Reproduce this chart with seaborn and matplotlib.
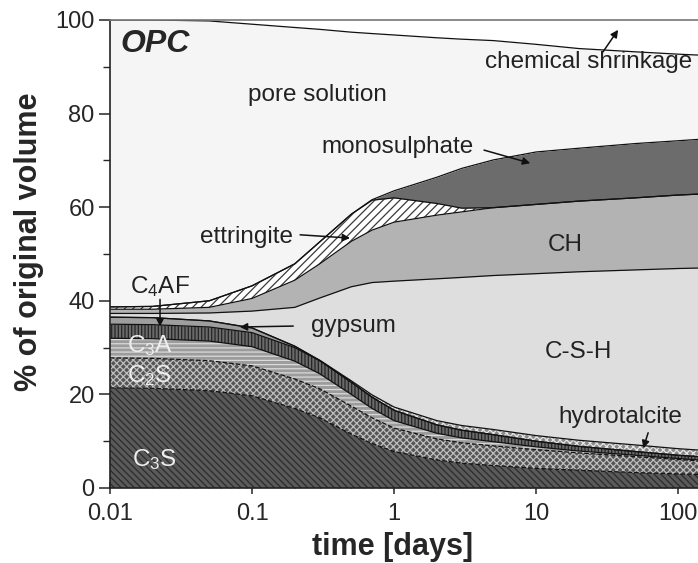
import numpy as np
import matplotlib
matplotlib.use("Agg")
import matplotlib.pyplot as plt
from matplotlib.ticker import FixedLocator, FixedFormatter, NullFormatter, LogLocator
import seaborn as sns

# ---- data (volume % of each phase vs. time) ----
time_days = [0.01, 0.02, 0.05, 0.1, 0.2, 0.3, 0.5, 0.7, 1, 2, 3, 5, 10, 20, 50, 100, 140]
c3s = [21.4, 21.3, 20.8, 19.7, 17.0, 15.0, 11.5, 9.5, 7.8, 6.0, 5.3, 4.8, 4.2, 3.8, 3.3, 3.0, 2.9]
c2s = [6.4, 6.4, 6.4, 6.4, 6.3, 6.2, 6.0, 5.5, 5.0, 4.5, 4.35, 4.2, 4.0, 3.7, 3.4, 3.1, 2.9]
c3a = [4.2, 4.2, 4.2, 4.1, 3.8, 3.2, 2.5, 2.0, 1.6, 1.2, 1.05, 0.9, 0.6, 0.4, 0.3, 0.2, 0.2]
c4af = [3.0, 3.0, 3.0, 3.0, 2.9, 2.8, 2.6, 2.4, 2.2, 1.8, 1.65, 1.5, 1.2, 1.0, 0.8, 0.7, 0.7]
gypsum = [1.5, 1.5, 1.3, 1.0, 0.3, 0, 0, 0, 0, 0, 0, 0, 0, 0, 0, 0, 0]
hydrotalcite = [0, 0, 0, 0, 0, 0.1, 0.3, 0.5, 0.7, 0.9, 1.0, 1.1, 1.2, 1.3, 1.4, 1.4, 1.4]
csh = [0.8, 0.9, 1.7, 3.6, 8.3, 13.3, 20.1, 24.0, 26.9, 30.3, 31.65, 32.9, 34.6, 36.0, 37.4, 38.5, 38.9]
ch = [0.9, 0.9, 1.2, 2.7, 5.8, 7.3, 9.7, 11.2, 12.6, 13.6, 14.0, 14.5, 14.8, 15.1, 15.4, 15.7, 15.8]
ettringite = [0.5, 0.6, 1.4, 2.7, 3.5, 4.7, 5.8, 6.4, 5.2, 2.5, 0.8, 0, 0, 0, 0, 0, 0]
monosulphate = [0, 0, 0, 0, 0, 0, 0, 0.1, 1.5, 5.6, 8.5, 10.2, 11.2, 11.3, 11.6, 11.6, 11.7]
pore_solution = [61.3, 61.2, 59.8, 55.9, 50.5, 45.4, 38.9, 35.5, 33.3, 29.8, 27.6, 25.5, 23.0, 21.3, 19.6, 18.5, 18.0]
shrinkage = [0, 0, 0.2, 0.9, 1.6, 2.0, 2.6, 2.9, 3.2, 3.8, 4.1, 4.4, 5.2, 6.1, 6.8, 7.3, 7.5]

x_ticks = [0.01, 0.1, 1, 10, 100]
x_tick_labels = ["0.01", "0.1", "1", "10", "100"]
y_ticks = [0, 20, 40, 60, 80, 100]

# ---- style ----
sns.set_style("ticks")
plt.rcParams['font.family'] = ['Liberation Sans', 'DejaVu Sans']
plt.rcParams['mathtext.fontset'] = 'custom'
plt.rcParams['mathtext.rm'] = 'Liberation Sans'
plt.rcParams['mathtext.it'] = 'Liberation Sans:italic'
plt.rcParams['mathtext.bf'] = 'Liberation Sans:bold'
plt.rcParams['hatch.linewidth'] = 0.9

fig = plt.figure(figsize=(6.98, 5.63), dpi=100)
ax = fig.add_axes([110 / 698, 1 - 488 / 563, 1 - 110 / 698, (488 - 20) / 563])
ax.set_xscale('log')

t = np.array(time_days, dtype=float)
layers = [c3s, c2s, c3a, c4af, gypsum, hydrotalcite, csh, ch, ettringite, monosulphate,
          pore_solution, shrinkage]
# (face colour, hatch colour, hatch)
styles = [
    ('#5a5a5a', '#2c2c2c', '\\\\\\\\\\'),
    ('#555555', '#bdbdbd', 'xxxxx'),
    ('#9c9c9c', '#dadada', '----'),
    ('#6a6a6a', '#262626', '|||||'),
    ('#9e9e9e', None, None),
    ('#8a8a8a', '#e6e6e6', 'xxxxx'),
    ('#dedede', None, None),
    ('#b3b3b3', None, None),
    ('#ffffff', '#3a3a3a', '////'),
    ('#6c6c6c', None, None),
    ('#f5f5f5', None, None),
    ('#ffffff', None, None),
]

cum = np.zeros_like(t)
tops = []
for vals, (fc, hc, h) in zip(layers, styles):
    lower = cum.copy()
    cum = cum + np.array(vals, dtype=float)
    if h:
        ax.fill_between(t, lower, cum, facecolor=fc, edgecolor=hc, hatch=h, linewidth=0)
    else:
        ax.fill_between(t, lower, cum, facecolor=fc, linewidth=0)
    tops.append(cum.copy())

# boundary lines
line_styles = ['--', '--', '-', '-', '-', '-', '-', '-', '-', '-', '-']
for top, ls in zip(tops[:-1], line_styles):
    sns.lineplot(x=t, y=top, ax=ax, color='#111111', lw=0.9, linestyle=ls, estimator=None, sort=False)

ax.set_xlim(0.01, 138)
ax.set_ylim(0, 100)

# ---- axes styling ----
ax.spines['right'].set_visible(False)
for s in ['left', 'bottom', 'top']:
    ax.spines[s].set_color('#222222')
    ax.spines[s].set_linewidth(1.2)
ax.spines['top'].set_color('#777777')
ax.spines['top'].set_zorder(5)
ax.xaxis.set_major_locator(FixedLocator(x_ticks))
ax.xaxis.set_major_formatter(FixedFormatter(x_tick_labels))
ax.xaxis.set_minor_locator(LogLocator(base=10, subs=np.arange(2, 10)))
ax.xaxis.set_minor_formatter(NullFormatter())
ax.set_yticks(y_ticks)
ax.set_yticks([10, 30, 50, 70, 90], minor=True)
ax.tick_params(axis='y', which='major', direction='out', length=8, width=1.1, labelsize=17, pad=3)
ax.tick_params(axis='y', which='minor', direction='out', length=5, width=1.0)
ax.tick_params(axis='x', which='major', direction='inout', length=9, width=1.1, labelsize=17, pad=6)
ax.tick_params(axis='x', which='minor', direction='in', length=4, width=0.9)
ax.tick_params(top=False, right=False, which='both')

ax.set_xlabel('time [days]', fontsize=22, fontweight='bold')
ax.set_ylabel('% of original volume', fontsize=22, fontweight='bold')
ax.xaxis.set_label_coords((393 - 110) / 588, (488 - 532) / 468)
ax.yaxis.set_label_coords((44 - 110) / 588, (488 - 242) / 468)

# ---- annotations ----
fs = 17.5
ax.text(0.0118, 94.8, 'OPC', fontsize=23, fontweight='bold', fontstyle='italic', ha='left', va='center')
ax.text(0.29, 84.0, 'pore solution', fontsize=fs, ha='center', va='center', color='#222222')
ax.text(23.5, 91.0, 'chemical shrinkage', fontsize=fs, ha='center', va='center', color='#222222')
ax.text(1.05, 72.9, 'monosulphate', fontsize=fs, ha='center', va='center', color='#222222')
ax.text(0.092, 53.6, 'ettringite', fontsize=fs, ha='center', va='center', color='#222222')
ax.text(16, 51.9, 'CH', fontsize=fs, ha='center', va='center', color='#222222')
ax.text(19.8, 29.0, 'C-S-H', fontsize=fs, ha='center', va='center', color='#222222')
ax.text(39, 15.2, 'hydrotalcite', fontsize=fs, ha='center', va='center', color='#222222')
ax.text(0.52, 34.6, 'gypsum', fontsize=fs, ha='center', va='center', color='#222222')
ax.text(0.0225, 43.0, r'C$_\mathregular{4}$AF', fontsize=fs, ha='center', va='center', color='#222222')
ax.text(0.019, 30.5, r'C$_\mathregular{3}$A', fontsize=fs, ha='center', va='center', color='#eeeeee')
ax.text(0.019, 24.1, r'C$_\mathregular{2}$S', fontsize=fs, ha='center', va='center', color='#eeeeee')
ax.text(0.0207, 6.0, r'C$_\mathregular{3}$S', fontsize=fs, ha='center', va='center', color='#eeeeee')

arrow = dict(arrowstyle='-|>', color='#111111', lw=1.1, mutation_scale=11, shrinkA=0, shrinkB=0)
ax.annotate('', xy=(37.8, 97.9), xytext=(29.6, 93.2), arrowprops=arrow)
ax.annotate('', xy=(9.1, 69.4), xytext=(4.3, 72.2), arrowprops=arrow)
ax.annotate('', xy=(0.49, 53.4), xytext=(0.218, 54.1), arrowprops=arrow)
ax.annotate('', xy=(56.8, 8.5), xytext=(61.5, 11.8), arrowprops=arrow)
ax.annotate('', xy=(0.082, 34.4), xytext=(0.195, 34.6), arrowprops=arrow)
ax.annotate('', xy=(0.0225, 34.5), xytext=(0.0225, 40.3), arrowprops=arrow)

fig.savefig('out.png', dpi=100)
